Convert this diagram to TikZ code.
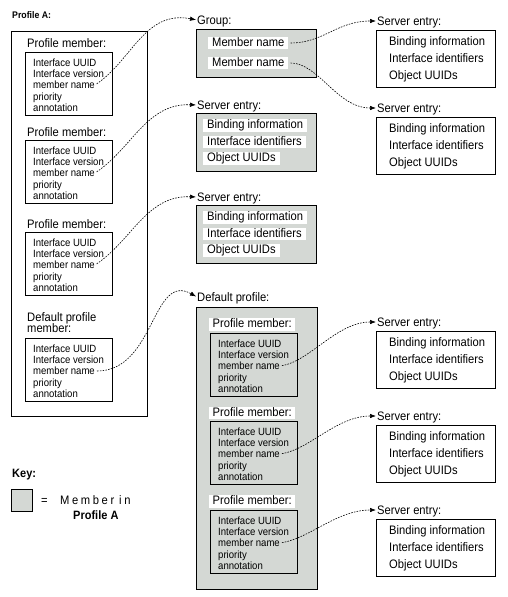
\documentclass[tikz,border=0pt]{standalone}
\usepackage{fontspec}
\setmainfont{Liberation Sans}[FakeStretch=0.91]
\usetikzlibrary{arrows.meta}
\definecolor{memgray}{RGB}{212,216,212}
\newcommand\profbox[3]{%
  \node[box, minimum width=87pt, minimum height=63pt] (#1) at (#2,#3) {};
  \node[sm] (#1-1) at (#2+8,#3+10.5) {Interface UUID};
  \node[sm] (#1-2) at (#2+8,#3+22) {Interface version};
  \node[sm] (#1-3) at (#2+8,#3+33) {member name};
  \node[sm] (#1-4) at (#2+8,#3+44.5) {priority};
  \node[sm] (#1-5) at (#2+8,#3+55.5) {annotation};
}
\newcommand\whiteentry[3]{%
  \node[lbl] (#1) at (#2+1,#3) {Server entry:};
  \node[box, minimum width=119pt, minimum height=57pt] (#1-box) at (#2,#3+8.5) {};
  \node[lbl] (#1-1) at (#2+13,#3+20.5) {Binding information};
  \node[lbl] (#1-2) at (#2+13,#3+37) {Interface identifiers};
  \node[lbl] (#1-3) at (#2+13,#3+54) {Object UUIDs};
}
\newcommand\grayentry[3]{%
  \node[lbl] (#1) at (#2+1,#3) {Server entry:};
  \node[gbox, minimum width=120pt, minimum height=58pt] (#1-box) at (#2,#3+8) {};
  \node[wbg] (#1-1) at (#2+7,#3+20.5) {Binding information};
  \node[wbg] (#1-2) at (#2+7,#3+37) {Interface identifiers};
  \node[wbg] (#1-3) at (#2+7,#3+53.5) {Object UUIDs};
}
\begin{document}
\begin{tikzpicture}[x=1pt,y=-1pt,
  every node/.style={inner sep=0pt, anchor=west},
  lbl/.style={font=\fontsize{12.3}{14}\selectfont, text height=8.8pt, text depth=0pt},
  sm/.style={font=\fontsize{10.5}{12}\selectfont, text height=7.5pt, text depth=0pt},
  wbg/.style={font=\fontsize{12.3}{14}\selectfont, fill=white, inner xsep=4pt, inner ysep=0.8pt, text height=8.8pt, text depth=2.5pt},
  box/.style={draw, line width=0.9pt, anchor=north west},
  gbox/.style={box, fill=memgray},
  conn/.style={line width=0.6pt, dash pattern=on 1.6pt off 1.2pt, -{Latex[length=6pt,width=4.5pt]}, shorten <=2pt, shorten >=1pt},
  boldsm/.style={font=\fontsize{9.6}{11}\selectfont\bfseries, text height=7pt, text depth=0pt},
  boldk/.style={font=\fontsize{12.1}{14}\selectfont\bfseries, text height=8.6pt, text depth=0pt}
]
\useasboundingbox (0,0) rectangle (508,597);

% ---- left column: Profile A
\node[boldsm] (pa) at (12,15) {Profile A:};
\node[box, minimum width=136pt, minimum height=385pt] (outer) at (11,31) {};
\node[lbl] (pm1) at (27,43) {Profile member:};
\profbox{la}{25}{52}
\node[lbl] (pm2) at (27,132) {Profile member:};
\profbox{lb}{25}{140}
\node[lbl] (pm3) at (27,224) {Profile member:};
\profbox{lc}{25}{232}
\node[lbl] (dpm1) at (27,317) {Default profile};
\node[lbl] (dpm2) at (27,328) {member:};
\profbox{ld}{25}{338}

% ---- middle column
\node[lbl] (grp) at (197,20) {Group:};
\node[gbox, minimum width=120pt, minimum height=48pt] (grpbox) at (196,29) {};
\node[wbg] (gm1) at (208,43) {Member name};
\node[wbg] (gm2) at (208,63) {Member name};

\grayentry{ga}{196}{105}
\grayentry{gb}{196}{197}

\node[lbl] (dp) at (197,297) {Default profile:};
\node[gbox, minimum width=121pt, minimum height=282pt] (dpbox) at (196,307) {};
\node[wbg, inner xsep=3.5pt] (dpl1) at (209,324.5) {Profile member:};
\profbox{da}{210}{333}
\node[wbg, inner xsep=3.5pt] (dpl2) at (209,413) {Profile member:};
\profbox{db}{210}{421}
\node[wbg, inner xsep=3.5pt] (dpl3) at (209,501.5) {Profile member:};
\profbox{dc}{210}{510}

% ---- right column
\whiteentry{ra}{376}{21}
\whiteentry{rb}{376}{108}
\whiteentry{rc}{376}{322}
\whiteentry{rd}{376}{416}
\whiteentry{re}{376}{510}

% ---- key
\node[boldk] (key) at (12,473) {Key:};
\node[gbox, minimum width=21pt, minimum height=22pt] (keysq) at (11,489) {};
\node[lbl] (eq) at (41,500) {=};
\node[lbl] (mi) at (60,500) {M\kern2.6pt e\kern2.6pt m\kern2.6pt b\kern2.6pt e\kern2.6pt r\kern5pt i\kern2.6pt n};
\node[boldk] (kpa) at (73,515) {Profile A};

% ---- connectors
\draw[conn] (la-3.east) .. controls +(37,-25) and +(-52,-10) .. (grp.west);
\draw[conn] (lb-3.east) .. controls +(37,-25) and +(-50,-2) .. (ga.west);
\draw[conn] (lc-3.east) .. controls +(37,-25) and +(-50,-2) .. (gb.west);
\draw[conn] (ld-3.east) .. controls +(60,0) and +(-45,-25) .. (dp.west);
\draw[conn] (gm1.east) .. controls +(35,0) and +(-40,0) .. (ra.west);
\draw[conn] (gm2.east) .. controls +(30,0) and +(-40,0) .. (rb.west);
\draw[conn] (da-3.east) .. controls +(30,-5) and +(-40,0) .. (rc.west);
\draw[conn] (db-3.east) .. controls +(30,-5) and +(-40,0) .. (rd.west);
\draw[conn] (dc-3.east) .. controls +(30,-5) and +(-40,0) .. (re.west);
\end{tikzpicture}
\end{document}
